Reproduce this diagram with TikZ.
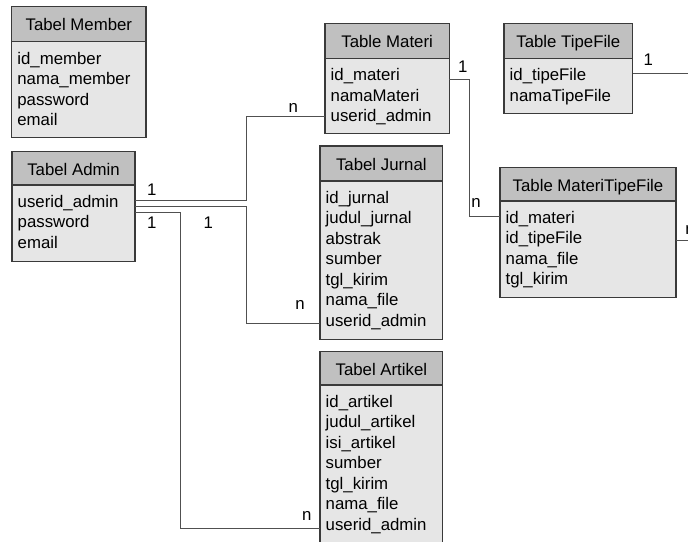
\documentclass[tikz,border=0pt]{standalone}
\usepackage{fontspec}
\setmainfont{Liberation Sans}
\definecolor{hdrcol}{HTML}{C0C0C0}
\definecolor{bodycol}{HTML}{E6E6E6}
\definecolor{bordercol}{HTML}{3A3A3A}
\definecolor{linecol}{HTML}{505050}
\tikzset{
  tbody/.style={draw=bordercol, fill=bodycol, line width=1.2pt, inner sep=0pt, outer sep=0pt},
  thead/.style={draw=bordercol, fill=hdrcol, line width=1.2pt, inner sep=0pt, outer sep=0pt},
  txt/.style={inner sep=0pt, font=\fontsize{16.8pt}{19pt}\selectfont, text=black},
  conn/.style={draw=linecol, line width=1pt},
  card/.style={txt}
}
\newcommand\erTable[8]{%
  \node[tbody, anchor=north west, minimum width={(#4-#2)*1pt}, minimum height={(#6-#3)*1pt}] (#1) at (#2,#3) {};
  \node[thead, anchor=north west, minimum width={(#4-#2)*1pt}, minimum height={(#5-#3)*1pt}] (#1-h) at (#2,#3) {};
  \node[txt, anchor=base] (#1-t) at ({(#2+#4)/2},{#3+24}) {#7};
  \foreach \f [count=\i] in {#8} {
    \node[txt, anchor=base west] (#1-f\i) at ({#2+5.5},{#5+22.3+(\i-1)*20.5}) {\f};
  }
}
\begin{document}
\begin{tikzpicture}[x=1pt,y=-1pt]
\useasboundingbox (0,0) rectangle (688,541);
\erTable{member}{11.7}{6.7}{146}{41.7}{137.3}{Tabel Member}{id\_member,nama\_member,password,email}
\erTable{admin}{12}{151.7}{135}{185}{261.7}{Tabel Admin}{userid\_admin,password,email}
\erTable{materi}{325}{23.3}{449.3}{58.3}{133.3}{Table Materi}{id\_materi,namaMateri,userid\_admin}
\erTable{tipe}{504}{23.3}{632.7}{58.3}{113.3}{Table TipeFile}{id\_tipeFile,namaTipeFile}
\erTable{jurnal}{320}{146}{442.7}{181}{339.3}{Tabel Jurnal}{id\_jurnal,judul\_jurnal,abstrak,sumber,tgl\_kirim,nama\_file,userid\_admin}
\erTable{artikel}{320}{351.7}{442.7}{385}{570}{Tabel Artikel}{id\_artikel,judul\_artikel,isi\_artikel,sumber,tgl\_kirim,nama\_file,userid\_admin}
\erTable{mtf}{500}{167.7}{676}{201}{297.7}{Table MateriTipeFile}{id\_materi,id\_tipeFile,nama\_file,tgl\_kirim}

\coordinate (tipeout) at (700,73.3);
\coordinate (mtfout) at (700,240);

% connectors
\draw[conn] (admin.east |- 0,200) -| (246,116.7) -- (materi.west |- 0,116.7);
\draw[conn] (admin.east |- 0,206.7) -| (246,323.3) -- (jurnal.west |- 0,323.3);
\draw[conn] (admin.east |- 0,212.3) -| (180.3,528.3) -- (artikel.west |- 0,528.3);
\draw[conn] (materi.east |- 0,79.3) -| (469.3,216) -- (mtf.west |- 0,216);
\draw[conn] (tipe.east |- 0,73.3) -- (tipeout);
\draw[conn] (mtf.east |- 0,240) -- (mtfout);

% cardinalities
\node[card] (c1) at (151.7,190) {1};
\node[card] (c2) at (151.7,222.7) {1};
\node[card] (c3) at (208.3,222.7) {1};
\node[card] (c4) at (293.3,108.3) {n};
\node[card] (c5) at (300,305) {n};
\node[card] (c6) at (306.7,516) {n};
\node[card] (c7) at (462.7,66.7) {1};
\node[card] (c8) at (476,202.7) {n};
\node[card] (c9) at (648.3,60) {1};
\node[card] (c10) at (690,230) {n};
\end{tikzpicture}
\end{document}
